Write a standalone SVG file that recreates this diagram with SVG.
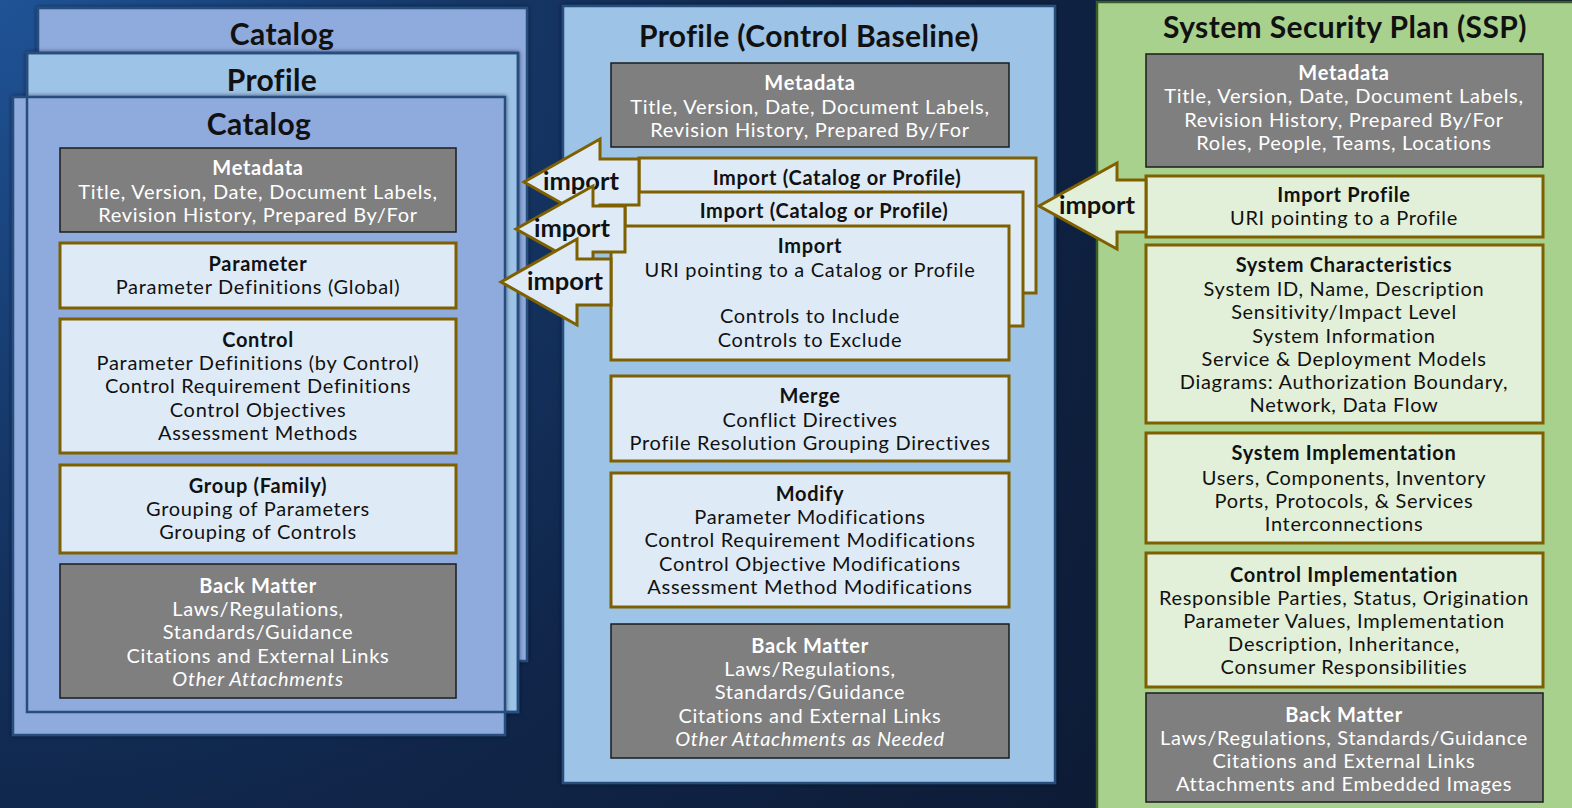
<svg xmlns="http://www.w3.org/2000/svg" width="1572" height="808" viewBox="0 0 1572 808">
  <defs>
    <radialGradient id="bg" cx="0" cy="0" r="1400" gradientUnits="userSpaceOnUse">
      <stop offset="0" stop-color="#1f5396"/>
      <stop offset="0.3" stop-color="#163a6c"/>
      <stop offset="0.6" stop-color="#10264a"/>
      <stop offset="1" stop-color="#0d1a33"/>
    </radialGradient>
    <filter id="shade" x="-5%" y="-5%" width="110%" height="110%">
      <feDropShadow dx="0" dy="0" stdDeviation="2" flood-color="#050d1c" flood-opacity="0.6"/>
    </filter>
  </defs>
  <style>
    text { font-family: Lato, "Open Sans", "Liberation Sans", sans-serif; text-anchor: middle; fill: #111; }
    .title { font-size: 30px; font-weight: bold; letter-spacing: 0.4px; }
    .h { font-size: 20px; font-weight: bold; letter-spacing: 0.7px; }
    .t { font-size: 20px; letter-spacing: 0.7px; }
    .it { font-size: 20px; font-style: italic; letter-spacing: 0.7px; }
    .w text, text.w { fill: #ffffff; }
    .lbl { font-size: 25.5px; font-weight: bold; }
    .cat { fill: #8faadc; stroke: #264d7c; stroke-width: 2.5; filter: url(#shade); }
    .pro { fill: #9dc3e6; stroke: #264d7c; stroke-width: 2.5; filter: url(#shade); }
    .ssp { fill: #a9d18e; stroke: #3b5b28; stroke-width: 2.5; }
    .gray { fill: #7f7f7f; stroke: #1c1c1c; stroke-width: 1.5; }
    .blue { fill: #deebf7; stroke: #7f6000; stroke-width: 3; }
    .green { fill: #e2f0d9; stroke: #7f6000; stroke-width: 3; }
    .arrB { fill: #deebf7; stroke: #7f6000; stroke-width: 3; stroke-linejoin: miter; }
    .arrG { fill: #e2f0d9; stroke: #7f6000; stroke-width: 3; stroke-linejoin: miter; }
  </style>

  <rect x="0" y="0" width="1572" height="808" fill="url(#bg)"/>

  <!-- Left stack: catalog imported by a profile imported from a catalog -->
  <g id="stack-catalog-back">
    <rect class="cat" x="38" y="8" width="489" height="653"/>
    <text class="title" x="282" y="45">Catalog</text>
  </g>
  <g id="stack-profile">
    <rect class="pro" x="27" y="53" width="491" height="659"/>
    <text class="title" x="272" y="91">Profile</text>
  </g>
  <g id="catalog">
    <rect class="cat" x="13" y="97" width="492" height="638"/>
    <rect x="27" y="53" width="491" height="659" fill="none" stroke="#264d7c" stroke-width="2.5"/>
    <text class="title" x="259" y="135">Catalog</text>

    <g id="cat-metadata" class="w">
      <rect class="gray" x="60" y="148" width="396" height="84"/>
      <text class="h" x="258" y="175">Metadata</text>
      <text class="t" x="258" y="199">Title, Version, Date, Document Labels,</text>
      <text class="t" x="258" y="222">Revision History, Prepared By/For</text>
    </g>
    <g id="cat-parameter">
      <rect class="blue" x="60" y="243" width="396" height="65"/>
      <text class="h" x="258" y="271">Parameter</text>
      <text class="t" x="258" y="294">Parameter Definitions (Global)</text>
    </g>
    <g id="cat-control">
      <rect class="blue" x="60" y="319" width="396" height="134"/>
      <text class="h" x="258" y="347">Control</text>
      <text class="t" x="258" y="370">Parameter Definitions (by Control)</text>
      <text class="t" x="258" y="393">Control Requirement Definitions</text>
      <text class="t" x="258" y="417">Control Objectives</text>
      <text class="t" x="258" y="440">Assessment Methods</text>
    </g>
    <g id="cat-group">
      <rect class="blue" x="60" y="465" width="396" height="88"/>
      <text class="h" x="258" y="493">Group (Family)</text>
      <text class="t" x="258" y="516">Grouping of Parameters</text>
      <text class="t" x="258" y="539">Grouping of Controls</text>
    </g>
    <g id="cat-backmatter" class="w">
      <rect class="gray" x="60" y="564" width="396" height="134"/>
      <text class="h" x="258" y="593">Back Matter</text>
      <text class="t" x="258" y="616">Laws/Regulations,</text>
      <text class="t" x="258" y="639">Standards/Guidance</text>
      <text class="t" x="258" y="663">Citations and External Links</text>
      <text class="it" x="258" y="686">Other Attachments</text>
    </g>
  </g>

  <!-- Profile (control baseline) -->
  <g id="profile">
    <rect class="pro" x="563" y="6" width="492" height="777"/>
    <text class="title" x="809" y="47">Profile (Control Baseline)</text>

    <g id="pro-metadata" class="w">
      <rect class="gray" x="611" y="63" width="398" height="84"/>
      <text class="h" x="810" y="90">Metadata</text>
      <text class="t" x="810" y="114">Title, Version, Date, Document Labels,</text>
      <text class="t" x="810" y="137">Revision History, Prepared By/For</text>
    </g>
    <g id="pro-import-1">
      <rect class="blue" x="639" y="158" width="397" height="135"/>
      <text class="h" x="837" y="185">Import (Catalog or Profile)</text>
    </g>
    <g id="pro-import-2">
      <rect class="blue" x="625" y="192" width="398" height="134"/>
      <text class="h" x="824" y="218">Import (Catalog or Profile)</text>
    </g>
    <g id="pro-import-3">
      <rect class="blue" x="611" y="226" width="398" height="134"/>
      <text class="h" x="810" y="253">Import</text>
      <text class="t" x="810" y="277">URI pointing to a Catalog or Profile</text>
      <text class="t" x="810" y="323">Controls to Include</text>
      <text class="t" x="810" y="347">Controls to Exclude</text>
    </g>
    <g id="pro-merge">
      <rect class="blue" x="611" y="376" width="398" height="85"/>
      <text class="h" x="810" y="403">Merge</text>
      <text class="t" x="810" y="427">Conflict Directives</text>
      <text class="t" x="810" y="450">Profile Resolution Grouping Directives</text>
    </g>
    <g id="pro-modify">
      <rect class="blue" x="611" y="473" width="398" height="134"/>
      <text class="h" x="810" y="501">Modify</text>
      <text class="t" x="810" y="524">Parameter Modifications</text>
      <text class="t" x="810" y="547">Control Requirement Modifications</text>
      <text class="t" x="810" y="571">Control Objective Modifications</text>
      <text class="t" x="810" y="594">Assessment Method Modifications</text>
    </g>
    <g id="pro-backmatter" class="w">
      <rect class="gray" x="611" y="624" width="398" height="134"/>
      <text class="h" x="810" y="653">Back Matter</text>
      <text class="t" x="810" y="676">Laws/Regulations,</text>
      <text class="t" x="810" y="699">Standards/Guidance</text>
      <text class="t" x="810" y="723">Citations and External Links</text>
      <text class="it" x="810" y="746">Other Attachments as Needed</text>
    </g>
  </g>

  <!-- System Security Plan -->
  <g id="ssp">
    <rect class="ssp" x="1097" y="2" width="490" height="820"/>
    <text class="title" x="1345" y="38">System Security Plan (SSP)</text>

    <g id="ssp-metadata" class="w">
      <rect class="gray" x="1146" y="54" width="397" height="113"/>
      <text class="h" x="1344" y="80">Metadata</text>
      <text class="t" x="1344" y="103">Title, Version, Date, Document Labels,</text>
      <text class="t" x="1344" y="127">Revision History, Prepared By/For</text>
      <text class="t" x="1344" y="150">Roles, People, Teams, Locations</text>
    </g>
    <g id="ssp-import">
      <rect class="green" x="1146" y="176" width="397" height="61"/>
      <text class="h" x="1344" y="202">Import Profile</text>
      <text class="t" x="1344" y="225">URI pointing to a Profile</text>
    </g>
    <g id="ssp-characteristics">
      <rect class="green" x="1146" y="245" width="397" height="178"/>
      <text class="h" x="1344" y="272">System Characteristics</text>
      <text class="t" x="1344" y="296">System ID, Name, Description</text>
      <text class="t" x="1344" y="319">Sensitivity/Impact Level</text>
      <text class="t" x="1344" y="343">System Information</text>
      <text class="t" x="1344" y="366">Service &amp; Deployment Models</text>
      <text class="t" x="1344" y="389">Diagrams: Authorization Boundary,</text>
      <text class="t" x="1344" y="412">Network, Data Flow</text>
    </g>
    <g id="ssp-implementation">
      <rect class="green" x="1146" y="433" width="397" height="110"/>
      <text class="h" x="1344" y="460">System Implementation</text>
      <text class="t" x="1344" y="485">Users, Components, Inventory</text>
      <text class="t" x="1344" y="508">Ports, Protocols, &amp; Services</text>
      <text class="t" x="1344" y="531">Interconnections</text>
    </g>
    <g id="ssp-control-implementation">
      <rect class="green" x="1146" y="553" width="397" height="134"/>
      <text class="h" x="1344" y="582">Control Implementation</text>
      <text class="t" x="1344" y="605">Responsible Parties, Status, Origination</text>
      <text class="t" x="1344" y="628">Parameter Values, Implementation</text>
      <text class="t" x="1344" y="651">Description, Inheritance,</text>
      <text class="t" x="1344" y="674">Consumer Responsibilities</text>
    </g>
    <g id="ssp-backmatter" class="w">
      <rect class="gray" x="1146" y="693" width="397" height="109"/>
      <text class="h" x="1344" y="722">Back Matter</text>
      <text class="t" x="1344" y="745">Laws/Regulations, Standards/Guidance</text>
      <text class="t" x="1344" y="768">Citations and External Links</text>
      <text class="t" x="1344" y="791">Attachments and Embedded Images</text>
    </g>
  </g>

  <!-- Import connectors: block arrows pointing at the imported document -->
  <g id="connectors">
    <g id="import-1">
      <polygon class="arrB" points="639,159 600,159 600,139 524,182 600,225 600,205 639,205"/>
      <text class="lbl" x="581" y="190">import</text>
    </g>
    <g id="import-2">
      <polygon class="arrB" points="625,206 593,206 593,186 516,229 593,272 593,252 625,252"/>
      <text class="lbl" x="572" y="237">import</text>
    </g>
    <g id="import-3">
      <polygon class="arrB" points="611,259 577,259 577,239 501,282 577,325 577,305 611,305"/>
      <text class="lbl" x="565" y="290">import</text>
    </g>
    <g id="import-ssp">
      <polygon class="arrG" points="1146,180 1117,180 1117,163 1039,206 1117,249 1117,232 1146,232"/>
      <text class="lbl" x="1097" y="214">import</text>
    </g>
  </g>
</svg>
